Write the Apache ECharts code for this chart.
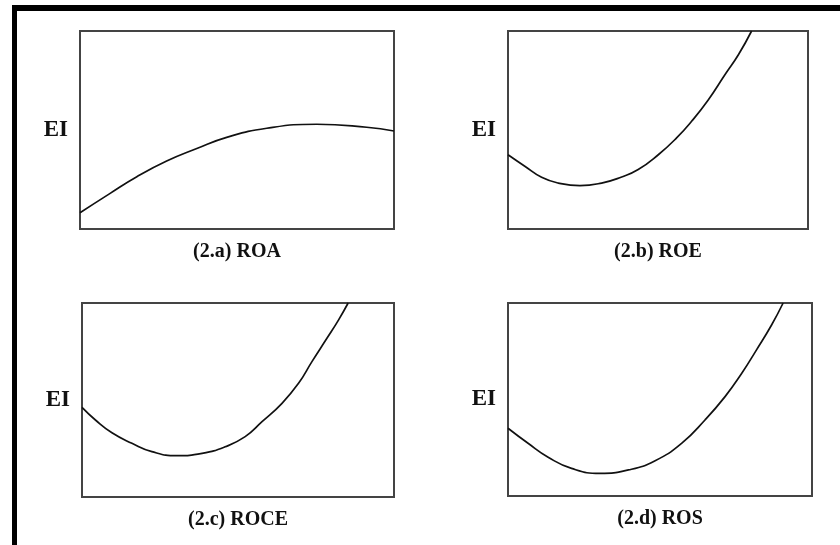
<!DOCTYPE html>
<html>
<head>
<meta charset="utf-8">
<script src="https://cdn.jsdelivr.net/npm/echarts@6/dist/echarts.min.js"></script>
<style>
html,body{margin:0;padding:0;background:#fff;}
#main{width:840px;height:545px;}
</style>
</head>
<body>
<div id="main"></div>
<script>
// Panel captions and axis label
const captions = ['(2.a) ROA', '(2.b) ROE', '(2.c) ROCE', '(2.d) ROS'];
const yLabel = 'EI';
// Curve data: [x, y] on a 0-100 scale in each panel
const roaX = [0, 9.6, 18.1, 27.6, 37.0, 46.7, 59.5, 75.4, 91.3, 100];
const roaY = [8.2, 18.0, 26.4, 34.3, 40.5, 46.3, 50.9, 52.9, 51.4, 49.5];
const roeX = [0, 5.6, 11.2, 16.8, 24, 31.2, 37.9, 43.4, 50.1, 56.2, 61.2, 66.8, 72.3, 76.8, 81.2];
const roeY = [37.5, 31.7, 26.1, 23.2, 21.9, 23.2, 26.3, 30.0, 37.5, 46.0, 54.4, 65.3, 77.9, 88.0, 100];
const roceX = [0, 4.3, 9.6, 16.0, 22.4, 30.4, 38.5, 45.9, 52.3, 57.7, 64.1, 69.4, 73.7, 78.5, 82.2, 85.3];
const roceY = [46.2, 39.7, 33.1, 27.7, 23.4, 21.3, 22.5, 25.9, 31.1, 38.8, 48.3, 58.6, 69.8, 81.8, 91.2, 100];
const rosX = [0, 6.6, 13.2, 20.9, 30.3, 39.6, 48.4, 57.1, 64.8, 71.4, 76.9, 81.7, 86.7, 90.5];
const rosY = [35.1, 27.3, 20.1, 14.3, 11.7, 13.5, 18.3, 27.3, 39.4, 51.5, 63.6, 75.6, 88.6, 100];

const seriesX = [roaX, roeX, roceX, rosX];
const seriesY = [roaY, roeY, roceY, rosY];

const grids = [
  {left: 80, top: 31, width: 314, height: 198},
  {left: 508, top: 31, width: 300, height: 198},
  {left: 82, top: 303, width: 312, height: 194},
  {left: 508, top: 303, width: 304, height: 193}
];
const font = '"Liberation Serif", "Times New Roman", serif';

const chart = echarts.init(document.getElementById('main'), null, {renderer: 'canvas'});
const option = {
  animation: false,
  backgroundColor: '#ffffff',
  grid: grids.map(g => Object.assign({show: true, borderColor: '#444', borderWidth: 2, backgroundColor: 'transparent'}, g)),
  xAxis: grids.map((g, i) => ({
    type: 'value', gridIndex: i, min: 0, max: 100,
    axisLine: {show: false}, axisTick: {show: false}, axisLabel: {show: false}, splitLine: {show: false},
    name: captions[i], nameLocation: 'middle', nameGap: 13,
    nameTextStyle: {fontFamily: font, fontWeight: 'bold', fontSize: 20, color: '#111', verticalAlign: 'top'}
  })),
  yAxis: grids.map((g, i) => ({
    type: 'value', gridIndex: i, min: 0, max: 100,
    axisLine: {show: false}, axisTick: {show: false}, axisLabel: {show: false}, splitLine: {show: false},
    name: yLabel, nameLocation: 'middle', nameRotate: 0, nameGap: 12,
    nameTextStyle: {fontFamily: font, fontWeight: 'bold', fontSize: 23, color: '#111', align: 'right', verticalAlign: 'middle'}
  })),
  series: seriesX.map((xs, i) => ({
    type: 'line', xAxisIndex: i, yAxisIndex: i,
    data: xs.map((x, j) => [x, seriesY[i][j]]),
    smooth: 0.5, symbol: 'none', clip: true,
    lineStyle: {color: '#111', width: 1.7}
  })),
  graphic: [
    {type: 'rect', shape: {x: 12, y: 5, width: 828, height: 6}, style: {fill: '#000'}},
    {type: 'rect', shape: {x: 12, y: 5, width: 5, height: 540}, style: {fill: '#000'}}
  ]
};
chart.setOption(option);
</script>
</body>
</html>
